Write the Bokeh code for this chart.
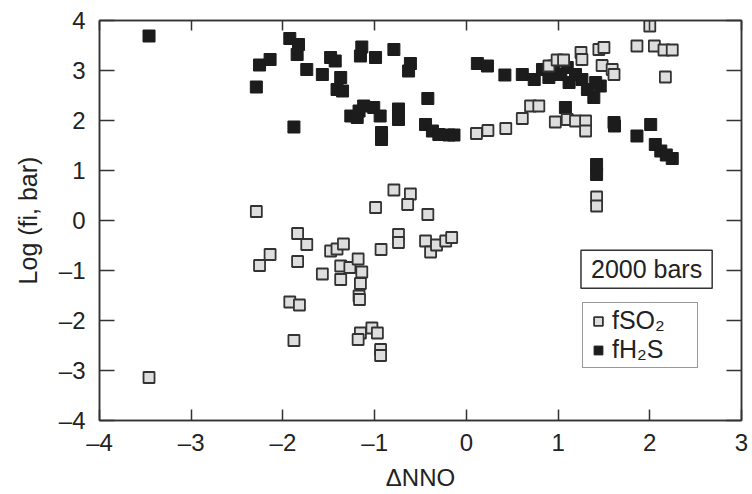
from bokeh.plotting import figure
from bokeh.models import (Range1d, LinearAxis, FixedTicker, Label, Legend,
                          LegendItem)
from bokeh.embed import file_html
from bokeh.resources import INLINE

# ---- data ----
so2_x = [-3.46, -2.29, -2.255, -2.14, -1.925, -1.82, -1.88, -1.84, -1.74, -1.84,
         -1.57, -1.48, -1.41, -1.34, -1.37, -1.37, -1.27, -1.18, -1.14, -1.155,
         -1.17, -1.165, -1.155, -1.03, -0.97, -1.18, -0.935, -0.935, -0.93, -0.99,
         -0.79, -0.61, -0.64, -0.42, -0.74, -0.74, -0.445, -0.39, -0.325, -0.225,
         -0.16, 0.11, 0.235, 0.43, 0.61, 0.70, 0.79, 0.97, 1.10, 1.19,
         1.30, 1.30, 1.42, 1.42, 0.90, 0.99, 1.06, 1.25, 1.26, 1.445,
         1.50, 1.48, 1.59, 1.61, 1.86, 2.00, 2.05, 2.155, 2.245, 2.17]
so2_y = [-3.14, 0.18, -0.90, -0.68, -1.63, -1.69, -2.40, -0.26, -0.48, -0.82,
         -1.07, -0.61, -0.57, -0.47, -0.91, -1.18, -0.94, -0.77, -1.03, -1.26,
         -1.51, -1.58, -2.25, -2.15, -2.25, -2.38, -2.58, -2.70, -0.58, 0.26,
         0.61, 0.53, 0.32, 0.12, -0.28, -0.44, -0.41, -0.63, -0.49, -0.41,
         -0.34, 1.74, 1.80, 1.84, 2.04, 2.29, 2.29, 1.97, 2.02, 1.99,
         1.99, 1.79, 0.47, 0.29, 3.09, 3.21, 3.21, 3.36, 3.22, 3.42,
         3.46, 3.10, 3.02, 2.92, 3.49, 3.89, 3.49, 3.41, 3.41, 2.87]

h2s_x = [-3.46, -2.255, -2.14, -2.29, -1.88, -1.925, -1.83, -1.845, -1.74, -1.57,
         -1.48, -1.43, -1.37, -1.41, -1.35, -1.14, -1.155, -0.99, -0.79, -0.61,
         -0.63, -0.42, -1.26, -1.17, -1.12, -1.01, -0.94, -1.19, -0.925, -0.925,
         -0.74, -0.74, -0.445, -0.37, -0.30, -0.19, -0.135, 0.12, 0.23, 0.42,
         0.61, 0.74, 0.83, 0.90, 0.955, 1.03, 1.10, 1.12, 1.19, 1.26,
         1.32, 1.39, 1.46, 1.41, 1.08, 1.61, 1.615, 1.42, 1.42, 1.86,
         2.01, 2.06, 2.12, 2.18, 2.245]
h2s_y = [3.69, 3.11, 3.22, 2.67, 1.87, 3.64, 3.52, 3.32, 3.02, 2.92,
         3.26, 3.19, 2.86, 2.62, 2.59, 3.47, 3.29, 3.26, 3.42, 3.14,
         2.99, 2.44, 2.09, 2.19, 2.29, 2.26, 2.09, 2.06, 1.76, 1.62,
         2.23, 2.02, 1.92, 1.79, 1.72, 1.71, 1.71, 3.14, 3.09, 2.91,
         2.92, 2.82, 3.02, 2.86, 3.09, 2.92, 3.06, 2.76, 2.92, 2.82,
         2.62, 2.46, 2.69, 2.76, 2.26, 1.96, 1.89, 1.12, 0.92, 1.69,
         1.92, 1.52, 1.39, 1.31, 1.24]

x_ticks = [-4, -3, -2, -1, 0, 1, 2, 3]
y_ticks = [-4, -3, -2, -1, 0, 1, 2, 3, 4]
x_tick_labels = {t: str(t).replace("-", "\u2013") for t in x_ticks}
y_tick_labels = {t: str(t).replace("-", "\u2013") for t in y_ticks}

FONT = "Liberation Sans"
INK = "#222222"
AX = "#333333"

p = figure(width=752, height=494, output_backend="svg", toolbar_location=None,
           x_range=Range1d(-4, 3), y_range=Range1d(-4, 4),
           min_border_left=99, min_border_right=11, min_border_top=20,
           min_border_bottom=74, background_fill_color="white",
           border_fill_color="white")
p.grid.visible = False
p.outline_line_color = AX
p.outline_line_width = 1.5

for ax, ticks, labels, tin in ((p.xaxis[0], x_ticks, x_tick_labels, 11),
                              (p.yaxis[0], y_ticks, y_tick_labels, 15)):
    ax.ticker = FixedTicker(ticks=ticks)
    ax.major_label_overrides = labels
    ax.major_tick_in = tin
    ax.major_tick_out = 0
    ax.minor_tick_in = 0
    ax.minor_tick_out = 0
    ax.axis_line_color = AX
    ax.axis_line_width = 1.5
    ax.major_tick_line_color = AX
    ax.major_tick_line_width = 1.5
    ax.major_label_text_font = FONT
    ax.major_label_text_font_size = "24px"
    ax.major_label_text_color = INK
    ax.axis_label_text_font = FONT
    ax.axis_label_text_font_size = "24px"
    ax.axis_label_text_font_style = "normal"
    ax.axis_label_text_color = INK

p.xaxis[0].axis_label = "\u0394NNO"
p.xaxis[0].major_label_standoff = 8
p.xaxis[0].axis_label_standoff = 5
p.yaxis[0].axis_label = "Log (fi, bar)"
p.yaxis[0].axis_label_text_font_size = "25px"
p.yaxis[0].major_label_standoff = 14
p.yaxis[0].axis_label_standoff = 14

# tick-only axes on the top and right (labels not drawn)
for side, ticks, tin in (("above", x_ticks, 10), ("right", y_ticks, 15)):
    ax = LinearAxis(ticker=FixedTicker(ticks=ticks))
    ax.major_tick_in = tin
    ax.major_tick_out = 0
    ax.minor_tick_in = 0
    ax.minor_tick_out = 0
    ax.major_label_text_font_size = "1px"
    ax.major_label_text_color = None
    ax.major_label_text_alpha = 0
    ax.major_label_standoff = 0
    ax.axis_line_color = AX
    ax.axis_line_width = 1.5
    ax.major_tick_line_color = AX
    ax.major_tick_line_width = 1.5
    p.add_layout(ax, side)

r_h2s = p.scatter(h2s_x, h2s_y, marker="square", size=12, fill_color="#1c1c1c",
                  line_color="#1c1c1c", line_width=1)
r_so2 = p.scatter(so2_x, so2_y, marker="square", size=11, fill_color="#dedede",
                  line_color="#333333", line_width=1.8)

legend = Legend(items=[LegendItem(label="fSO\u2082", renderers=[r_so2]),
                       LegendItem(label="fH\u2082S", renderers=[r_h2s])],
                location=(483, 52), margin=0, padding=3, spacing=0,
                label_text_font=FONT, label_text_font_size="25px",
                label_text_color=INK, label_height=26, label_width=82,
                label_standoff=2, glyph_width=24, glyph_height=22,
                border_line_color=AX, border_line_width=1.5,
                background_fill_alpha=1.0)
p.add_layout(legend, "center")

box = Label(x=1.965, y=-0.976, text="2000 bars", text_align="center",
            text_baseline="middle", text_font=FONT, text_font_size="25px",
            text_color=INK, border_line_color=AX, border_line_width=1.5,
            background_fill_color="white", padding=(10, 5))
p.add_layout(box)

open("out.html", "w").write(file_html(p, INLINE))
